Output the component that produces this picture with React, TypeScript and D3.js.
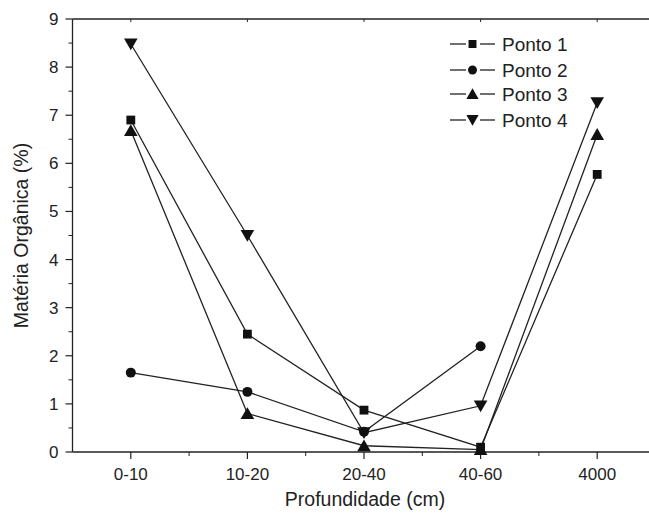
import React, { useEffect, useRef } from 'react';
import * as d3 from 'd3';

const categories = ['0-10', '10-20', '20-40', '40-60', '4000'];
const ponto1 = [6.9, 2.45, 0.87, 0.1, 5.77];
const ponto2 = [1.65, 1.25, 0.42, 2.2, null];
const ponto3 = [6.68, 0.8, 0.13, 0.05, 6.6];
const ponto4 = [8.48, 4.5, 0.4, 0.96, 7.26];
const seriesNames = ['Ponto 1', 'Ponto 2', 'Ponto 3', 'Ponto 4'];
const yTicks = [0, 1, 2, 3, 4, 5, 6, 7, 8, 9];

const W = 649;
const H = 515;
const FONT = "'Liberation Sans', Arial, sans-serif";

function App() {
  const svgRef = useRef<SVGSVGElement>(null);

  useEffect(() => {
    const svg = d3.select(svgRef.current);
    svg.selectAll('*').remove();

    const x = d3.scalePoint<string>().domain(categories).range([72.5, 655.5]).padding(0.5);
    const y = d3.scaleLinear().domain([0, 9]).range([452, 19]);
    const left = 72.5;
    const step = x.step();

    // frame: left axis, bottom axis, top line (right side is cut off)
    svg.append('line').attr('x1', left).attr('x2', left).attr('y1', y(9)).attr('y2', y(0))
      .attr('stroke', '#222').attr('stroke-width', 1.3);
    svg.append('line').attr('x1', left).attr('x2', W).attr('y1', y(0)).attr('y2', y(0))
      .attr('stroke', '#222').attr('stroke-width', 1.3);
    svg.append('line').attr('x1', left).attr('x2', W).attr('y1', y(9)).attr('y2', y(9))
      .attr('stroke', '#222').attr('stroke-width', 1.3);

    // y ticks
    yTicks.forEach(t => {
      svg.append('line').attr('x1', left - 7).attr('x2', left).attr('y1', y(t)).attr('y2', y(t))
        .attr('stroke', '#222').attr('stroke-width', 1.2);
      if (t < 9) {
        svg.append('line').attr('x1', left - 4).attr('x2', left).attr('y1', y(t + 0.5)).attr('y2', y(t + 0.5))
          .attr('stroke', '#222').attr('stroke-width', 1);
      }
      svg.append('text').attr('x', left - 14).attr('y', y(t)).attr('dy', '0.35em')
        .attr('text-anchor', 'end').attr('font-family', FONT).attr('font-size', 17).attr('fill', '#222')
        .text(t);
    });

    // x ticks
    categories.forEach(c => {
      const cx = x(c) as number;
      svg.append('line').attr('x1', cx).attr('x2', cx).attr('y1', y(0)).attr('y2', y(0) + 7)
        .attr('stroke', '#222').attr('stroke-width', 1.2);
      svg.append('line').attr('x1', cx).attr('x2', cx).attr('y1', y(9)).attr('y2', y(9) + 3)
        .attr('stroke', '#222').attr('stroke-width', 1);
      svg.append('line').attr('x1', cx + step / 2).attr('x2', cx + step / 2).attr('y1', y(0)).attr('y2', y(0) + 4)
        .attr('stroke', '#222').attr('stroke-width', 1);
      svg.append('text').attr('x', cx).attr('y', y(0) + 28)
        .attr('text-anchor', 'middle').attr('font-family', FONT).attr('font-size', 17).attr('fill', '#222')
        .text(c);
    });

    // axis titles
    svg.append('text').attr('x', 365).attr('y', 506).attr('text-anchor', 'middle')
      .attr('font-family', FONT).attr('font-size', 19.5).attr('fill', '#222').text('Profundidade (cm)');
    svg.append('text').attr('transform', `translate(28,${(y(0) + y(9)) / 2}) rotate(-90)`)
      .attr('text-anchor', 'middle').attr('font-family', FONT).attr('font-size', 19.5).attr('fill', '#222')
      .text('Matéria Orgânica (%)');

    const allSeries = [ponto1, ponto2, ponto3, ponto4];
    const symbols = [d3.symbolSquare, d3.symbolCircle, d3.symbolTriangle, d3.symbolTriangle];
    const sizes = [78, 78, 80, 80];
    const rotations = [0, 0, 0, 180];

    const line = d3.line<number | null>()
      .defined(d => d !== null)
      .x((_, i) => x(categories[i]) as number)
      .y(d => y(d as number));

    const marker = (g: any, k: number, px: number, py: number, scale = 1) => {
      const yOff = k >= 2 ? (k === 2 ? 1.5 : -1.5) * scale : 0;
      g.append('path')
        .attr('d', d3.symbol().type(symbols[k]).size(sizes[k] * scale * scale)())
        .attr('transform', `translate(${px},${py + yOff}) rotate(${rotations[k]})`)
        .attr('fill', '#111');
    };

    allSeries.forEach(s => {
      svg.append('path').datum(s).attr('fill', 'none').attr('stroke', '#222')
        .attr('stroke-width', 1.3).attr('d', line);
    });
    allSeries.forEach((s, k) => {
      s.forEach((v, i) => {
        if (v === null) return;
        marker(svg, k, x(categories[i]) as number, y(v));
      });
    });

    // legend
    const legY = [44, 70, 94, 120];
    seriesNames.forEach((name, k) => {
      const ly = legY[k];
      svg.append('line').attr('x1', 450).attr('x2', 466).attr('y1', ly).attr('y2', ly)
        .attr('stroke', '#222').attr('stroke-width', 1.3);
      svg.append('line').attr('x1', 480).attr('x2', 495).attr('y1', ly).attr('y2', ly)
        .attr('stroke', '#222').attr('stroke-width', 1.3);
      marker(svg, k, 472.5, ly, 0.9);
      svg.append('text').attr('x', 502).attr('y', ly).attr('dy', '0.35em')
        .attr('font-family', FONT).attr('font-size', 19).attr('fill', '#222').text(name);
    });
  }, []);

  return (
    <svg ref={svgRef} width={W} height={H}
      style={{ position: 'absolute', left: 0, top: 0, background: '#fff' }} />
  );
}

export default App;
